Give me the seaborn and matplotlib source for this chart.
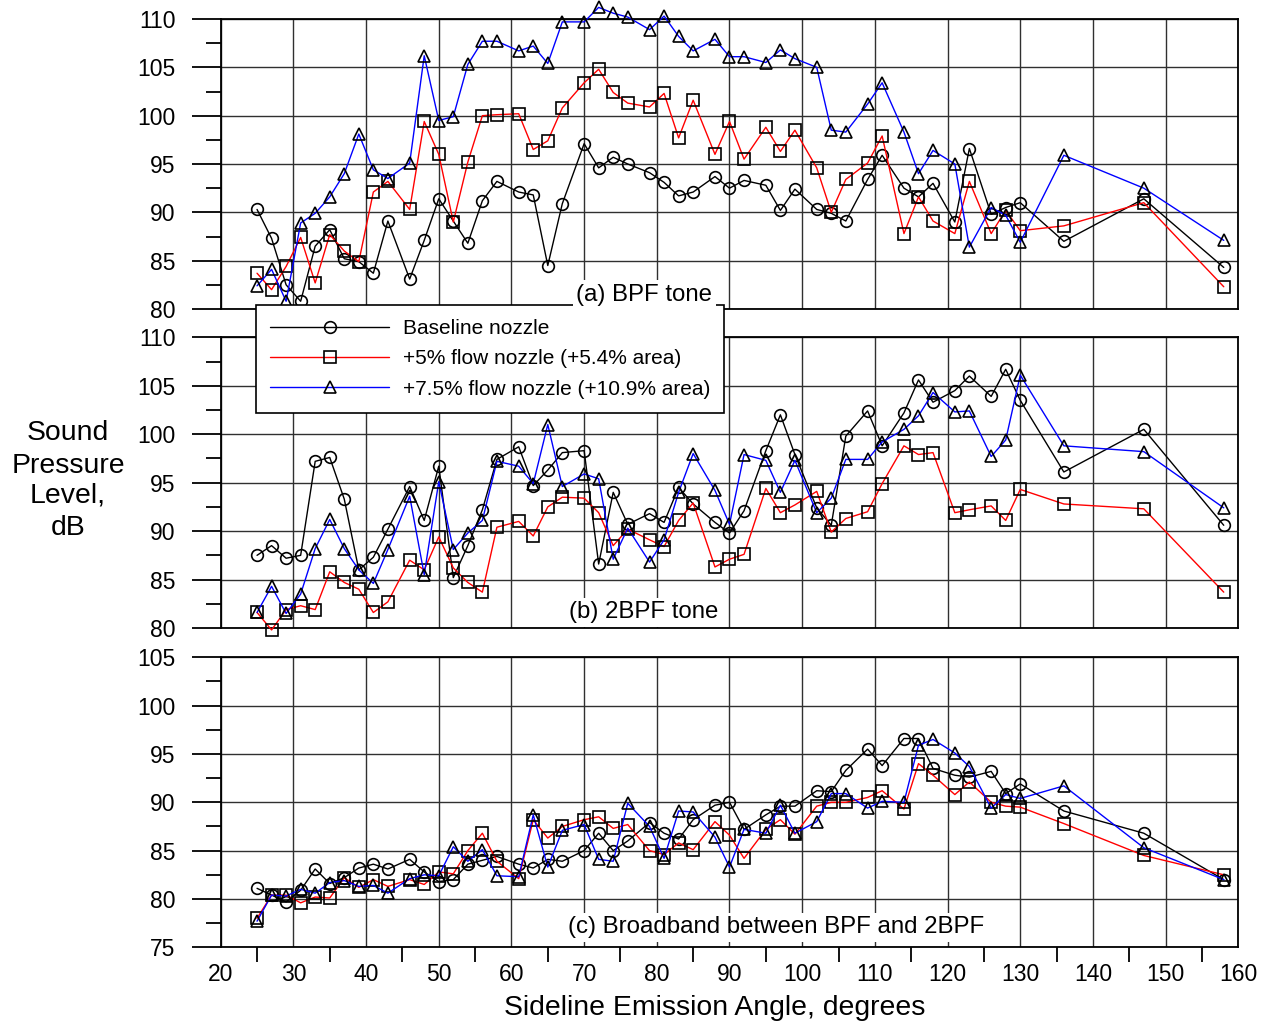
import numpy as np
import pandas as pd
import matplotlib
matplotlib.use("Agg")
import matplotlib.pyplot as plt
from matplotlib.ticker import MultipleLocator, FixedLocator
import seaborn as sns

# ---------------- data ----------------
angle = [25, 27, 29, 31, 33, 35, 37, 39, 41, 43, 46, 48, 50, 52, 54, 56, 58,
         61, 63, 65, 67, 70, 72, 74, 76, 79, 81, 83, 85, 88, 90, 92, 95, 97, 99,
         102, 104, 106, 109, 111, 114, 116, 118, 121, 123, 126, 128, 130,
         136, 147, 158]

series_names = ["Baseline nozzle",
                "+5% flow nozzle (+5.4% area)",
                "+7.5% flow nozzle (+10.9% area)"]

# (a) BPF tone
bpf_base = [90.3, 87.3, 82.5, 80.8, 86.5, 88.2, 85.2, 84.9, 83.7, 89.1, 83.1, 87.1, 91.4, 89.1, 86.8, 91.2, 93.2,
            92.1, 91.8, 84.5, 90.9, 97.1, 94.6, 95.7, 95.0, 94.1, 93.1, 91.7, 92.1, 93.7, 92.5, 93.3, 92.8, 90.2, 92.4,
            90.3, 89.9, 89.1, 93.4, 95.9, 92.5, 91.6, 93.0, 89.0, 96.6, 89.8, 90.5, 91.0, 87.0, 91.4, 84.3]
bpf_p5 = [83.7, 82.0, 84.4, 87.4, 82.7, 87.7, 86.0, 84.9, 92.1, 93.2, 90.3, 99.4, 96.0, 89.0, 95.2, 100.0, 100.1,
          100.2, 96.5, 97.4, 100.8, 103.4, 104.8, 102.4, 101.3, 100.9, 102.3, 97.7, 101.6, 96.0, 99.4, 95.5, 98.8, 96.3, 98.5,
          94.6, 90.0, 93.4, 95.1, 97.9, 87.8, 91.6, 89.1, 87.8, 93.2, 87.8, 90.2, 88.1, 88.6, 91.0, 82.3]
bpf_p75 = [82.4, 84.1, 80.8, 88.9, 89.9, 91.6, 94.0, 98.1, 94.4, 93.5, 95.1, 106.2, 99.5, 99.9, 105.3, 107.7, 107.7,
           106.7, 107.2, 105.4, 109.7, 109.7, 111.2, 110.6, 110.2, 108.9, 110.3, 108.2, 106.7, 107.9, 106.1, 106.1, 105.5, 106.8, 105.9,
           105.0, 98.5, 98.3, 101.2, 103.4, 98.3, 94.0, 96.4, 95.0, 86.4, 90.5, 89.7, 86.9, 95.9, 92.5, 87.1]

# (b) 2BPF tone
bpf2_base = [87.5, 88.5, 87.2, 87.5, 97.2, 97.6, 93.3, 86.0, 87.3, 90.2, 94.6, 91.1, 96.7, 85.2, 88.5, 92.2, 97.4,
             98.7, 94.7, 96.3, 98.1, 98.3, 86.6, 94.0, 90.7, 91.8, 90.9, 94.5, 92.8, 90.9, 89.8, 92.1, 98.3, 102.0, 97.9,
             92.4, 90.6, 99.8, 102.4, 98.8, 102.2, 105.6, 103.3, 104.5, 106.0, 103.9, 106.7, 103.5, 96.1, 100.5, 90.6]
bpf2_p5 = [81.6, 79.8, 81.9, 82.3, 81.9, 85.8, 84.7, 84.0, 81.6, 82.7, 87.0, 86.0, 89.4, 86.2, 84.7, 83.7, 90.4,
           91.0, 89.5, 92.5, 93.5, 93.4, 91.9, 88.5, 90.2, 89.1, 88.4, 91.1, 92.9, 86.3, 87.1, 87.6, 94.4, 91.9, 92.7,
           94.1, 89.9, 91.3, 92.0, 94.9, 98.8, 97.9, 98.1, 91.9, 92.2, 92.6, 91.1, 94.3, 92.8, 92.3, 83.7]
bpf2_p75 = [81.6, 84.3, 81.5, 83.5, 88.2, 91.2, 88.2, 86.0, 84.6, 88.1, 93.6, 85.5, 95.1, 88.1, 89.8, 91.1, 97.2,
            96.7, 94.9, 101.0, 94.6, 95.9, 95.4, 87.1, 90.3, 86.8, 89.1, 94.0, 98.0, 94.2, 90.7, 97.9, 97.3, 94.0, 97.3,
            91.9, 93.4, 97.4, 97.4, 99.2, 100.5, 101.9, 104.3, 102.3, 102.4, 97.7, 99.4, 106.1, 98.8, 98.2, 92.4]

# (c) Broadband between BPF and 2BPF
bb_base = [81.1, 80.4, 79.7, 80.9, 83.1, 81.6, 82.2, 83.2, 83.6, 83.1, 84.1, 82.8, 81.8, 82.0, 83.6, 84.0, 84.4,
           83.6, 83.2, 84.1, 83.9, 85.0, 86.8, 85.0, 86.0, 87.9, 86.8, 86.2, 88.2, 89.7, 90.0, 87.2, 88.7, 89.6, 89.6,
           91.2, 91.1, 93.3, 95.5, 93.8, 96.6, 96.6, 93.5, 92.8, 92.6, 93.2, 90.9, 91.9, 89.1, 86.8, 82.0]
bb_p5 = [78.0, 80.4, 80.4, 79.6, 80.2, 80.1, 82.2, 81.2, 82.0, 81.3, 82.0, 81.5, 82.8, 82.6, 85.0, 86.8, 83.9,
         82.1, 88.2, 86.3, 87.5, 88.2, 88.5, 87.3, 87.7, 85.0, 84.6, 85.8, 85.1, 88.0, 86.6, 84.2, 87.2, 88.2, 86.7,
         89.6, 90.0, 90.0, 90.5, 91.2, 89.3, 94.0, 92.8, 90.8, 92.1, 90.0, 89.6, 89.5, 87.8, 84.5, 82.5]
bb_p75 = [77.7, 80.4, 80.3, 81.0, 80.6, 81.7, 81.9, 81.3, 81.4, 80.6, 82.1, 82.5, 82.4, 85.4, 83.9, 85.1, 82.4,
          82.3, 88.7, 83.3, 87.1, 87.7, 84.1, 83.9, 89.9, 87.5, 84.2, 89.1, 89.0, 86.4, 83.3, 87.2, 86.8, 89.7, 86.8,
          88.0, 90.9, 90.9, 89.4, 90.1, 90.0, 95.9, 96.5, 95.1, 93.7, 89.4, 90.8, 90.4, 91.7, 85.3, 82.0]

panel_labels = ["(a) BPF tone", "(b) 2BPF tone", "(c) Broadband between BPF and 2BPF"]
x_ticks = list(range(20, 161, 10))
x_minor = list(range(25, 160, 10))

# ---------------- style ----------------
sns.set_style("white")
plt.rcParams['font.family'] = ['Liberation Sans', 'DejaVu Sans']
plt.rcParams['text.color'] = 'black'
plt.rcParams['axes.labelcolor'] = 'black'
plt.rcParams['xtick.color'] = 'black'
plt.rcParams['ytick.color'] = 'black'
plt.rcParams['xtick.labelcolor'] = 'black'
plt.rcParams['ytick.labelcolor'] = 'black'

colors = ["black", "red", "blue"]
markers = ["o", "s", "^"]

W, H = 1267, 1023
fig = plt.figure(figsize=(W / 100, H / 100), dpi=100)

x0, x1 = 220.7, 1238.3
panels = [
    dict(top=19.0, bot=309.0, data=(bpf_base, bpf_p5, bpf_p75), ylim=(80, 110),
         lab=panel_labels[0], lx=78.3, ly=80.86),
    dict(top=337.3, bot=628.0, data=(bpf2_base, bpf2_p5, bpf2_p75), ylim=(80, 110),
         lab=panel_labels[1], lx=78.15, ly=80.99),
    dict(top=657.3, bot=947.3, data=(bb_base, bb_p5, bb_p75), ylim=(75, 105),
         lab=panel_labels[2], lx=96.35, ly=76.45),
]

axes = []
for i, p in enumerate(panels):
    ax = fig.add_axes([x0 / W, 1 - p['bot'] / H, (x1 - x0) / W, (p['bot'] - p['top']) / H])
    axes.append(ax)
    df = pd.DataFrame({
        "angle": angle * 3,
        "spl": list(p['data'][0]) + list(p['data'][1]) + list(p['data'][2]),
        "nozzle": sum([[n] * len(angle) for n in series_names], []),
    })
    sns.lineplot(data=df, x="angle", y="spl", hue="nozzle", style="nozzle",
                 hue_order=series_names, style_order=series_names,
                 palette=colors, markers=markers, dashes=False,
                 markersize=8.4, markeredgecolor="black", markerfacecolor="none",
                 markeredgewidth=1.2, linewidth=1.0, legend=False,
                 estimator=None, sort=False, ax=ax, clip_on=False, zorder=3)
    ax.set_xlim(20, 160)
    ax.set_ylim(*p['ylim'])
    ax.set_xlabel("")
    ax.set_ylabel("")
    ax.set_axisbelow(True)
    ax.xaxis.set_major_locator(FixedLocator(x_ticks))
    ax.xaxis.set_minor_locator(FixedLocator(x_minor))
    ax.yaxis.set_major_locator(MultipleLocator(5))
    ax.yaxis.set_minor_locator(MultipleLocator(2.5))
    ax.grid(True, which="major", axis="both", color="#303030", linewidth=1.0)
    ax.tick_params(axis="y", which="major", left=True, direction="out", length=21,
                   width=1.3, pad=11.5, labelsize=16.5, color="black", labelcolor="black")
    ax.tick_params(axis="y", which="minor", left=True, direction="out", length=11,
                   width=1.3, color="black")
    if i < 2:
        ax.tick_params(axis="x", which="both", bottom=False, labelbottom=False)
    else:
        ax.tick_params(axis="x", which="major", bottom=True, length=0, pad=11.3,
                       labelsize=16.5, labelcolor="black")
        ax.tick_params(axis="x", which="minor", bottom=True, direction="out",
                       length=10.5, width=1.3, color="black")
    for s in ax.spines.values():
        s.set_visible(True)
        s.set_color("black")
        s.set_linewidth(1.3)
    # panel label with white box
    fig.text(p['lx'], p['ly'], p['lab'], transform=ax.transData, ha="center",
             va="baseline", fontsize=17.3, zorder=10, color="black",
             bbox=dict(boxstyle="square,pad=0.15", fc="white", ec="none"))

# legend spanning panels (a) and (b)
handles = axes[0].lines[:3]
leg = fig.legend(handles, series_names, loc="upper left",
                 bbox_to_anchor=(256 / W, 1 - 305 / H), bbox_transform=fig.transFigure,
                 borderaxespad=0, frameon=True, fancybox=False, framealpha=1,
                 edgecolor="black", facecolor="white", fontsize=15,
                 handlelength=5.7, handletextpad=0.67, borderpad=0.68,
                 labelspacing=0.54, numpoints=1, labelcolor="black")
leg.get_frame().set_linewidth(1.2)
leg.set_zorder(5)

# axis labels
ylab_lines = ["Sound", "Pressure", "Level,", "dB"]
ylab_base = [440, 473, 503, 535]
for t, yb in zip(ylab_lines, ylab_base):
    fig.text(68 / W, 1 - yb / H, t, ha="center", va="baseline", fontsize=20.4, color="black")
fig.text(714.5 / W, 1 - 1015 / H, "Sideline Emission Angle, degrees",
         ha="center", va="baseline", fontsize=20.4, color="black")

fig.savefig("out.png", dpi=100)
